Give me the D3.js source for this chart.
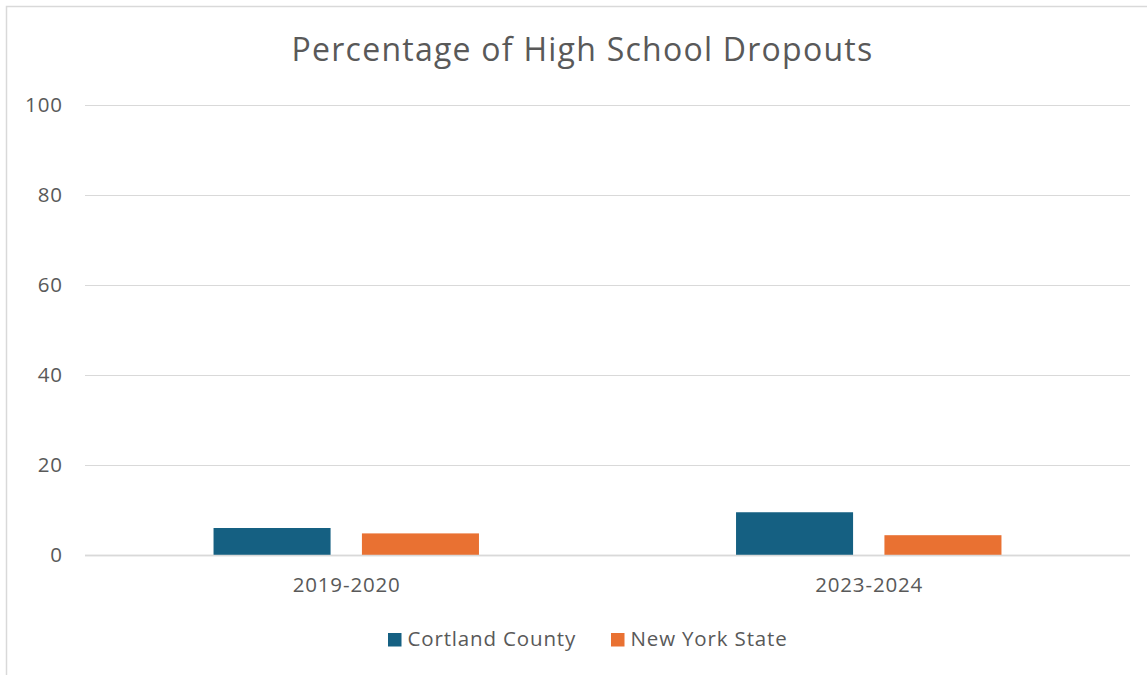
<!DOCTYPE html>
<html>
<head>
<meta charset="utf-8">
<script src="https://cdn.jsdelivr.net/npm/d3@7"></script>
<style>
  html, body { margin: 0; padding: 0; background: #fff; }
  svg text { font-family: "Open Sans", "Noto Sans", sans-serif; fill: #595959; }
</style>
</head>
<body>
<svg id="chart" width="1147" height="675"></svg>
<script>
const categories = ["2019-2020", "2023-2024"];
const seriesNames = ["Cortland County", "New York State"];
const cortlandCounty = [6.0, 9.5];
const newYorkState = [4.8, 4.4];
const yTicks = [0, 20, 40, 60, 80, 100];
const colors = ["#156082", "#e97132"];

const series = [cortlandCounty, newYorkState];
const svg = d3.select("#chart");
const W = 1147, H = 675;

// outer chart border
svg.append("rect").attr("x", 6.5).attr("y", 6.5).attr("width", W + 10).attr("height", H + 10)
  .attr("fill", "#fff").attr("stroke", "#d9d9d9").attr("stroke-width", 1.5);

const plot = { left: 85, right: 1130, top: 105, bottom: 555 };
const x = d3.scaleBand().domain(categories).range([plot.left, plot.right]).padding(0);
const y = d3.scaleLinear().domain([0, 100]).range([plot.bottom, plot.top]);

// gridlines
svg.append("g").selectAll("line").data(yTicks).join("line")
  .attr("x1", plot.left).attr("x2", plot.right)
  .attr("y1", d => Math.round(y(d)) + 0.5).attr("y2", d => Math.round(y(d)) + 0.5)
  .attr("stroke", "#d9d9d9")
  .attr("stroke-width", d => d === 0 ? 1.5 : 1.2);

const fs = 20.5, ls = 0.85;

// y tick labels
svg.append("g").selectAll("text").data(yTicks).join("text")
  .attr("x", 62.8).attr("y", d => y(d)).attr("dy", "0.35em")
  .attr("text-anchor", "end").attr("font-size", fs).attr("letter-spacing", ls).text(d => d);

// bars
const bw = x.bandwidth();
const barW = bw * 0.224;
const gap = bw * 0.06;
const groupW = barW * 2 + gap;
const g = svg.append("g");
categories.forEach((c, i) => {
  const start = x(c) + (bw - groupW) / 2;
  series.forEach((s, j) => {
    g.append("rect")
      .attr("x", start + j * (barW + gap))
      .attr("y", y(s[i]))
      .attr("width", barW)
      .attr("height", y(0) - y(s[i]))
      .attr("fill", colors[j]);
  });
});
// baseline over bars
svg.append("line").attr("x1", plot.left).attr("x2", plot.right)
  .attr("y1", y(0) + 0.5).attr("y2", y(0) + 0.5).attr("stroke", "#d9d9d9").attr("stroke-width", 1.5);

// category labels
svg.append("g").selectAll("text").data(categories).join("text")
  .attr("x", d => x(d) + bw / 2 + ls / 2).attr("y", 592)
  .attr("text-anchor", "middle").attr("font-size", fs).attr("letter-spacing", ls).text(d => d);

// title
svg.append("text").attr("x", 582.5).attr("y", 61).attr("text-anchor", "middle")
  .attr("font-size", 32).attr("letter-spacing", 1.25).text("Percentage of High School Dropouts");

// legend
const legendItems = [{ name: seriesNames[0], x: 388 }, { name: seriesNames[1], x: 611 }];
legendItems.forEach((it, j) => {
  svg.append("rect").attr("x", it.x).attr("y", 633).attr("width", 13.5).attr("height", 13.5).attr("fill", colors[j]);
  svg.append("text").attr("x", it.x + 19.5).attr("y", 645.5).attr("font-size", fs).attr("letter-spacing", ls).text(it.name);
});
</script>
</body>
</html>
